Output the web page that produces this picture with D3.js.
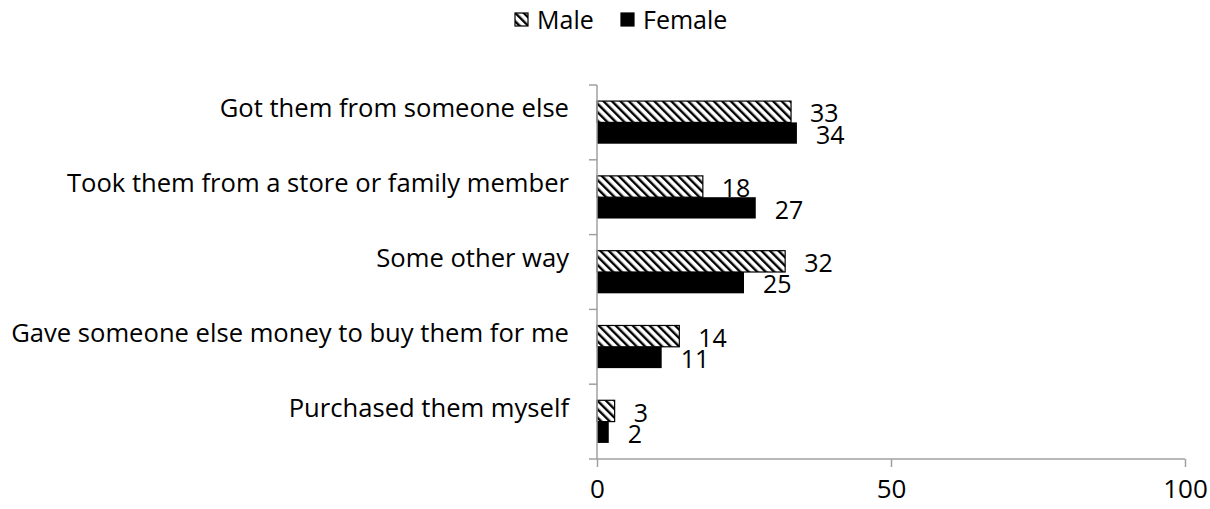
<!DOCTYPE html>
<html>
<head>
<meta charset="utf-8">
<script src="https://cdn.jsdelivr.net/npm/d3@7"></script>
<style>
  html, body { margin: 0; padding: 0; background: #fff; }
  svg { display: block; font-family: "Open Sans", "Noto Sans", sans-serif; }
</style>
</head>
<body>
<svg id="chart" width="1210" height="509"></svg>
<script>
// Sources of the items, top to bottom
const categories = [
  "Got them from someone else",
  "Took them from a store or family member",
  "Some other way",
  "Gave someone else money to buy them for me",
  "Purchased them myself"
];
const seriesNames = ["Male", "Female"];
const maleValues = [33, 18, 32, 14, 3];
const femaleValues = [34, 27, 25, 11, 2];
const xTicks = [0, 50, 100];

const svg = d3.select("#chart");
const axisColor = "#a0a0a0";
const fontSize = 25;

// Downward-diagonal hatched fill for the Male series
const defs = svg.append("defs");
const pat = defs.append("pattern")
  .attr("id", "hatch")
  .attr("patternUnits", "userSpaceOnUse")
  .attr("width", 6).attr("height", 6)
  .attr("patternTransform", "rotate(-45)");
pat.append("rect").attr("width", 6).attr("height", 6).attr("fill", "#fff");
pat.append("rect").attr("x", 0).attr("y", 0).attr("width", 2.4).attr("height", 6).attr("fill", "#000");

const x = d3.scaleLinear().domain([0, 100]).range([597, 1185]);
const y = d3.scaleBand().domain(categories).range([85, 459])
  .paddingInner(0.43).paddingOuter(0.215);
const ySub = d3.scaleBand().domain(seriesNames).range([0, y.bandwidth()]);

const rows = categories.map((c, i) => ({ cat: c, values: [maleValues[i], femaleValues[i]] }));

// Bars and their value labels
const g = svg.append("g");
rows.forEach(r => {
  r.values.forEach((v, j) => {
    const s = seriesNames[j];
    const y0 = y(r.cat) + ySub(s);
    g.append("rect")
      .attr("x", x(0))
      .attr("y", y0)
      .attr("width", x(v) - x(0))
      .attr("height", ySub.bandwidth())
      .attr("fill", j === 0 ? "url(#hatch)" : "#000")
      .attr("stroke", j === 0 ? "#000" : "none")
      .attr("stroke-width", 1.2);
    g.append("text")
      .attr("x", x(v) + 19)
      .attr("y", y0 + ySub.bandwidth() / 2 + 2)
      .attr("dy", "0.35em")
      .attr("font-size", fontSize)
      .attr("fill", "#000")
      .text(v);
  });
});

// Category axis (left)
const yAxis = svg.append("g");
yAxis.append("line")
  .attr("x1", x(0)).attr("x2", x(0))
  .attr("y1", y.range()[0]).attr("y2", y.range()[1])
  .attr("stroke", axisColor).attr("stroke-width", 1.5);
const boundaries = d3.range(categories.length + 1).map(i => y.range()[0] + i * y.step());
yAxis.selectAll("line.tick").data(boundaries).join("line")
  .attr("class", "tick")
  .attr("x1", x(0) - 8).attr("x2", x(0))
  .attr("y1", d => d).attr("y2", d => d)
  .attr("stroke", axisColor).attr("stroke-width", 1.5);

const catLabels = yAxis.selectAll("text.cat").data(categories).join("text")
  .attr("class", "cat")
  .attr("x", 569)
  .attr("y", d => y(d) + y.bandwidth() / 2 - 14)
  .attr("dy", "0.35em")
  .attr("text-anchor", "end")
  .attr("font-size", 100)
  .attr("fill", "#000")
  .text(d => d);
// size the labels so the longest one spans its room
const longest = d3.max(catLabels.nodes(), n => n.getComputedTextLength());
catLabels.attr("font-size", 100 * 558 / longest);

// Value axis (bottom)
const xAxis = svg.append("g").attr("transform", `translate(0,${y.range()[1]})`)
  .call(d3.axisBottom(x).tickValues(xTicks).tickSize(8).tickPadding(13).tickFormat(d3.format("d")));
xAxis.select(".domain").attr("stroke", axisColor).attr("stroke-width", 1.5)
  .attr("d", `M${x(0)},0H${x(100)}`);
xAxis.selectAll(".tick line").attr("stroke", axisColor).attr("stroke-width", 1.5);
xAxis.selectAll(".tick text").attr("font-size", 26).attr("fill", "#000")
  .attr("font-family", "\"Open Sans\", sans-serif");

// Legend
const legend = svg.append("g");
const legendItems = [
  { name: "Male", fill: "url(#hatch)", x: 515 },
  { name: "Female", fill: "#000", x: 621 }
];
legendItems.forEach(it => {
  legend.append("rect")
    .attr("x", it.x).attr("y", 13).attr("width", 13).attr("height", 13)
    .attr("fill", it.fill).attr("stroke", "#000").attr("stroke-width", 1.2);
  legend.append("text")
    .attr("x", it.x + 22).attr("y", 20).attr("dy", "0.35em")
    .attr("font-size", fontSize).attr("fill", "#000")
    .text(it.name);
});
</script>
</body>
</html>
